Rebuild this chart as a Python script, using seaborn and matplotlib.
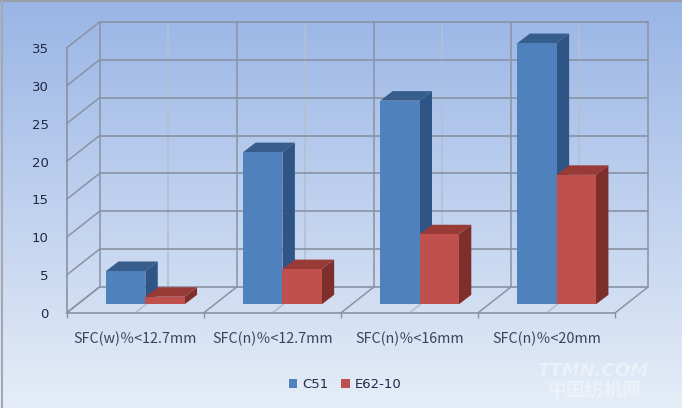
import numpy as np
import pandas as pd
import seaborn as sns
import matplotlib.pyplot as plt
from matplotlib.patches import Polygon
from matplotlib.lines import Line2D
from matplotlib.transforms import Affine2D

categories = ["SFC(w)％<12.7mm", "SFC(n)％<12.7mm", "SFC(n)％<16mm", "SFC(n)％<20mm"]
c51 = [4.4, 20.1, 26.9, 34.5]
e62 = [1.0, 4.65, 9.25, 17.1]
yticks = [0, 5, 10, 15, 20, 25, 30, 35]

grid_col = "#8a92a4"
light_col = "#b4bfd3"
front_col = {"C51": "#4f81bd", "E62-10": "#c0504d"}
top_col = {"C51": "#375d8c", "E62-10": "#983a36"}
side_col = {"C51": "#2f5587", "E62-10": "#7f2f2b"}

sns.set_style("white")
plt.rcParams["font.family"] = ["DejaVu Sans", "Noto Sans CJK SC"]

df = pd.DataFrame({
    "cat": categories * 2,
    "val": c51 + e62,
    "series": ["C51"] * 4 + ["E62-10"] * 4,
})

fig = plt.figure(figsize=(6.82, 4.08), dpi=100)

# background gradient
bg = fig.add_axes([0, 0, 1, 1], zorder=0)
grad = np.linspace(0, 1, 256).reshape(-1, 1, 1)
top = np.array([0.60, 0.71, 0.90]).reshape(1, 1, 3)
bottom = np.array([0.90, 0.93, 0.97]).reshape(1, 1, 3)
bg.imshow(top + (bottom - top) * grad, aspect="auto", extent=[0, 1, 0, 1])
bg.axis("off")
bg.add_artist(Line2D([0, 1], [0.9965, 0.9965], transform=bg.transAxes, color="#9a9da6", lw=1.5))
bg.add_artist(Line2D([0.0025, 0.0025], [0, 1], transform=bg.transAxes, color="#a4a8b2", lw=1.5))

ax = fig.add_axes([66.5 / 682, (408 - 313) / 408, 548.5 / 682, 265 / 408], zorder=1)
ax.patch.set_alpha(0)

sns.barplot(data=df, x="cat", y="val", hue="series", palette=front_col, saturation=1,
            width=0.573, ax=ax, zorder=3, linewidth=0, edgecolor="none")
ax.set_xlim(-0.5, 3.5)
ax.set_ylim(0, 35)
ax.set_xlabel("")
ax.set_ylabel("")

# depth of the 3d box in pixels
depth_x, depth_y = 33, 26
back = ax.transData + Affine2D().translate(depth_x, depth_y)
edges = np.arange(len(categories) + 1) - 0.5
mids = np.arange(len(categories))

for y in yticks:
    ax.plot([-0.5, 3.5], [y, y], transform=back, color=grid_col, lw=1.2, clip_on=False, zorder=1)
for x in edges:
    ax.plot([x, x], [0, 35], transform=back, color=grid_col, lw=1.1, clip_on=False, zorder=1)
for x in mids:
    ax.plot([x, x], [0, 35], transform=back, color=light_col, lw=1.2, clip_on=False, zorder=0.5)

# side wall and floor connect the front plane to the back wall
for y in yticks:
    p0 = ax.transData.transform((-0.5, y))
    ax.plot([p0[0], p0[0] + depth_x], [p0[1], p0[1] + depth_y], transform=None,
            color=grid_col, lw=1.1, clip_on=False, zorder=1)
for x in edges:
    p0 = ax.transData.transform((x, 0))
    ax.plot([p0[0], p0[0] + depth_x], [p0[1], p0[1] + depth_y], transform=None,
            color=grid_col, lw=1.1, clip_on=False, zorder=1)
for x in mids:
    p0 = ax.transData.transform((x, 0))
    ax.plot([p0[0], p0[0] + depth_x], [p0[1], p0[1] + depth_y], transform=None,
            color=light_col, lw=1.2, clip_on=False, zorder=0.5)

# bars sit mid depth, extruded for side and top faces
shift_x, shift_y = 10.3, 8.7
bar_dx, bar_dy = 12.4, 9.5
names = ["C51"] * 4 + ["E62-10"] * 4
bars = list(ax.patches)[:8]
for bar, name in zip(bars, names):
    z = 3 if name == "C51" else 4
    x0, y0 = ax.transData.transform((bar.get_x(), 0))
    x1, y1 = ax.transData.transform((bar.get_x() + bar.get_width(), bar.get_height()))
    x0, x1 = x0 + shift_x, x1 + shift_x
    y0, y1 = y0 + shift_y, y1 + shift_y
    bar.set_transform(ax.transData + Affine2D().translate(shift_x, shift_y))
    bar.set_clip_on(False)
    bar.set_zorder(z + 0.2)
    side = Polygon([(x1, y0), (x1 + bar_dx, y0 + bar_dy), (x1 + bar_dx, y1 + bar_dy), (x1, y1)],
                   transform=None, fc=side_col[name], ec="none", clip_on=False, zorder=z)
    roof = Polygon([(x0, y1), (x0 + bar_dx, y1 + bar_dy), (x1 + bar_dx, y1 + bar_dy), (x1, y1)],
                   transform=None, fc=top_col[name], ec="none", clip_on=False, zorder=z + 0.1)
    ax.add_artist(side)
    ax.add_artist(roof)

ax.set_yticks(yticks)
ax.set_xticks(edges, minor=True)
ax.tick_params(axis="y", which="major", length=3.5, width=1, color=grid_col, pad=9.2,
               labelsize=9.5, labelcolor="#1f2a44")
ax.tick_params(axis="x", which="major", length=0, pad=13.5, labelsize=10.3, labelcolor="#36445c")
ax.tick_params(axis="x", which="minor", bottom=True, length=3.5, width=1, color=grid_col)
for lab in ax.get_xticklabels():
    lab.set_fontfamily(["Noto Sans CJK SC", "DejaVu Sans"])
for s in ["top", "right"]:
    ax.spines[s].set_visible(False)
for s in ["left", "bottom"]:
    ax.spines[s].set_color(grid_col)
    ax.spines[s].set_linewidth(1.2)

handles, labels = ax.get_legend_handles_labels()
ax.legend(handles, labels, ncol=2, frameon=False, loc="center", handlelength=0.62, handleheight=0.62,
          bbox_to_anchor=(345 / 682, 23.5 / 408), bbox_transform=fig.transFigure,
          fontsize=9.5, columnspacing=1.0, handletextpad=0.38, labelcolor="#1f2a44")

# watermark
fig.text(593 / 682, 1 - 371 / 408, "TTMN.COM", color="white", alpha=0.38, fontsize=13,
         fontweight="bold", style="italic", ha="center", va="center", zorder=5)
fig.text(594 / 682, 1 - 390 / 408, "中国纺机网", color="white", alpha=0.38, fontsize=13.5,
         fontweight="bold", family=["Noto Sans CJK SC", "DejaVu Sans"], ha="center", va="center", zorder=5)

fig.savefig("out.png", dpi=100)
